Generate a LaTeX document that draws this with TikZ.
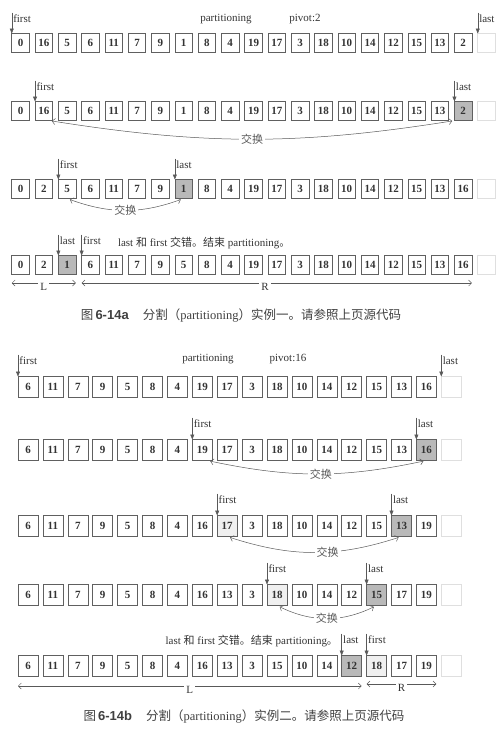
\documentclass[tikz,border=0pt]{standalone}
\usepackage{fontspec}
\setmainfont{Liberation Serif}
\newfontfamily\cjk{Noto Sans CJK SC}
\newfontfamily\capfont{Liberation Sans}
\usetikzlibrary{arrows.meta}

\begin{document}
\begin{tikzpicture}[x=1pt, y=-1pt,
  every node/.style={inner sep=0pt, outer sep=0pt, text=black!80},
  cell/.style={draw=gray!75!black, line width=0.6pt, minimum width=17.5, minimum height=19, font=\bfseries\fontsize{11}{11}\selectfont},
  bcell/.style={cell, minimum width=20, minimum height=21},
  pl/.style={},
  pv/.style={fill=gray!55},
  lt/.style={fill=gray!12},
  spare/.style={draw=gray!25},
  lbl/.style={anchor=north west, inner sep=1.5pt, font=\fontsize{11}{11}\selectfont, text height=8, text depth=1},
  txt/.style={font=\fontsize{11}{11}\selectfont, text height=8, text depth=1},
  ptr/.style={draw=gray!70!black, line width=0.5pt, -{Triangle[length=5pt,width=4pt]}},
  swapline/.style={draw=gray!70!black, line width=0.5pt, shorten <=3pt, shorten >=3pt,
    {Straight Barb[length=3pt,width=6pt]}-{Straight Barb[length=3pt,width=6pt]}},
  cn/.style={font=\cjk\fontsize{11}{11}\selectfont, fill=white, inner sep=2pt, text=black!65},
  spanline/.style={draw=gray!70!black, line width=0.5pt,
    {Straight Barb[length=3pt,width=6pt]}-{Straight Barb[length=3pt,width=6pt]}},
  spanlbl/.style={font=\fontsize{11}{11}\selectfont, fill=white, inner sep=2pt, yshift=-4pt},
  figcap/.style={font=\fontsize{12.5}{12.5}\selectfont, text=black!75}]
\useasboundingbox (0,0) rectangle (500,732);

% 6-14a
\foreach \v/\s [count=\i from 0] in {0/pl,16/pl,5/pl,6/pl,11/pl,7/pl,9/pl,1/pl,8/pl,4/pl,19/pl,17/pl,3/pl,18/pl,10/pl,14/pl,12/pl,15/pl,13/pl,2/pl,/spare}
  \node[cell,\s] (a1-\i) at (20.5+23.3*\i,43) {\v};
\foreach \v/\s [count=\i from 0] in {0/pl,16/pl,5/pl,6/pl,11/pl,7/pl,9/pl,1/pl,8/pl,4/pl,19/pl,17/pl,3/pl,18/pl,10/pl,14/pl,12/pl,15/pl,13/pl,2/pv,/spare}
  \node[cell,\s] (a2-\i) at (20.5+23.3*\i,111) {\v};
\foreach \v/\s [count=\i from 0] in {0/pl,2/pl,5/pl,6/pl,11/pl,7/pl,9/pl,1/pv,8/pl,4/pl,19/pl,17/pl,3/pl,18/pl,10/pl,14/pl,12/pl,15/pl,13/pl,16/pl,/spare}
  \node[cell,\s] (a3-\i) at (20.5+23.3*\i,189) {\v};
\foreach \v/\s [count=\i from 0] in {0/pl,2/pl,1/pv,6/pl,11/pl,7/pl,9/pl,5/pl,8/pl,4/pl,19/pl,17/pl,3/pl,18/pl,10/pl,14/pl,12/pl,15/pl,13/pl,16/pl,/spare}
  \node[cell,\s] (a4-\i) at (20.5+23.3*\i,265) {\v};

\node[txt] (a1part) at (226,18) {partitioning};
\node[txt] (a1piv) at (305,18) {pivot:2};
\node[lbl] (a1f) at ([yshift=21]a1-0.north west) {first};
\node[lbl] (a1l) at ([yshift=21]a1-20.north west) {last};
\draw[ptr] (a1f.north west) -- (a1-0.north west);
\draw[ptr] (a1l.north west) -- (a1-20.north west);

\node[lbl] (a2f) at ([yshift=21]a2-1.north west) {first};
\node[lbl] (a2l) at ([yshift=21]a2-19.north west) {last};
\draw[ptr] (a2f.north west) -- (a2-1.north west);
\draw[ptr] (a2l.north west) -- (a2-19.north west);
\draw[swapline] ([xshift=5]a2-1.south) to[bend right=9] node[cn] (a2x) {交换} ([xshift=-8]a2-19.south);

\node[lbl] (a3f) at ([yshift=21]a3-2.north west) {first};
\node[lbl] (a3l) at ([yshift=21]a3-7.north west) {last};
\draw[ptr] (a3f.north west) -- (a3-2.north west);
\draw[ptr] (a3l.north west) -- (a3-7.north west);
\draw[swapline] (a3-2.south) to[bend right=20] node[cn] (a3x) {交换} (a3-7.south);

\node[lbl] (a4l) at ([yshift=21]a4-2.north west) {last};
\node[lbl] (a4f) at ([yshift=21]a4-3.north west) {first};
\draw[ptr] (a4l.north west) -- (a4-2.north west);
\draw[ptr] (a4f.north west) -- (a4-3.north west);
\node[txt, anchor=west] (a4note) at (118,243) {last {\cjk 和} first {\cjk 交错。结束} partitioning{\cjk 。}};

\coordinate (aL1) at ([yshift=-8.5]a4-0.south west);
\coordinate (aL2) at ([yshift=-8.5]a4-2.south east);
\coordinate (aR1) at ([yshift=-8.5]a4-3.south west);
\coordinate (aR2) at ([yshift=-8.5]a4-19.south east);
\draw[spanline] (aL1) -- node[spanlbl] (aL) {L} (aL2);
\draw[spanline] (aR1) -- node[spanlbl, pos=0.47] (aR) {R} (aR2);

\node[figcap] (capa) at (241,315) {{\cjk 图}\,{\capfont\bfseries\fontsize{13}{13}\selectfont 6-14a}\hspace{14pt}{\cjk 分割（}partitioning{\cjk ）实例一。请参照上页源代码}};

% 6-14b
\foreach \v/\s [count=\i from 0] in {6/pl,11/pl,7/pl,9/pl,5/pl,8/pl,4/pl,19/pl,17/pl,3/pl,18/pl,10/pl,14/pl,12/pl,15/pl,13/pl,16/pl,/spare}
  \node[bcell,\s] (b1-\i) at (28+24.9*\i,387) {\v};
\foreach \v/\s [count=\i from 0] in {6/pl,11/pl,7/pl,9/pl,5/pl,8/pl,4/pl,19/pl,17/pl,3/pl,18/pl,10/pl,14/pl,12/pl,15/pl,13/pl,16/pv,/spare}
  \node[bcell,\s] (b2-\i) at (28+24.9*\i,450) {\v};
\foreach \v/\s [count=\i from 0] in {6/pl,11/pl,7/pl,9/pl,5/pl,8/pl,4/pl,16/pl,17/lt,3/pl,18/pl,10/pl,14/pl,12/pl,15/pl,13/pv,19/pl,/spare}
  \node[bcell,\s] (b3-\i) at (28+24.9*\i,526) {\v};
\foreach \v/\s [count=\i from 0] in {6/pl,11/pl,7/pl,9/pl,5/pl,8/pl,4/pl,16/pl,13/pl,3/pl,18/lt,10/pl,14/pl,12/pl,15/pv,17/pl,19/pl,/spare}
  \node[bcell,\s] (b4-\i) at (28+24.9*\i,595) {\v};
\foreach \v/\s [count=\i from 0] in {6/pl,11/pl,7/pl,9/pl,5/pl,8/pl,4/pl,16/pl,13/pl,3/pl,15/pl,10/pl,14/pl,12/pv,18/lt,17/pl,19/pl,/spare}
  \node[bcell,\s] (b5-\i) at (28+24.9*\i,666) {\v};

\node[txt] (b1part) at (208,358) {partitioning};
\node[txt] (b1piv) at (288,358) {pivot:16};
\node[lbl] (b1f) at ([yshift=22]b1-0.north west) {first};
\node[lbl] (b1l) at ([yshift=22]b1-17.north west) {last};
\draw[ptr] (b1f.north west) -- (b1-0.north west);
\draw[ptr] (b1l.north west) -- (b1-17.north west);

\node[lbl] (b2f) at ([yshift=22]b2-7.north west) {first};
\node[lbl] (b2l) at ([yshift=22]b2-16.north west) {last};
\draw[ptr] (b2f.north west) -- (b2-7.north west);
\draw[ptr] (b2l.north west) -- (b2-16.north west);
\draw[swapline] ([xshift=5]b2-7.south) to[bend right=12] node[cn, pos=0.52] (b2x) {交换} (b2-16.south);

\node[lbl] (b3f) at ([yshift=22]b3-8.north west) {first};
\node[lbl] (b3l) at ([yshift=22]b3-15.north west) {last};
\draw[ptr] (b3f.north west) -- (b3-8.north west);
\draw[ptr] (b3l.north west) -- (b3-15.north west);
\draw[swapline] (b3-8.south) to[bend right=18] node[cn, pos=0.58] (b3x) {交换} (b3-15.south);

\node[lbl] (b4f) at ([yshift=22]b4-10.north west) {first};
\node[lbl] (b4l) at ([yshift=22]b4-14.north west) {last};
\draw[ptr] (b4f.north west) -- (b4-10.north west);
\draw[ptr] (b4l.north west) -- (b4-14.north west);
\draw[swapline] (b4-10.south) to[bend right=26] node[cn] (b4x) {交换} (b4-14.south);

\node[lbl] (b5l) at ([yshift=22]b5-13.north west) {last};
\node[lbl] (b5f) at ([yshift=22]b5-14.north west) {first};
\draw[ptr] (b5l.north west) -- (b5-13.north west);
\draw[ptr] (b5f.north west) -- (b5-14.north west);
\node[txt, anchor=east] (b5note) at (338,641) {last {\cjk 和} first {\cjk 交错。结束} partitioning{\cjk 。}};

\coordinate (bL1) at ([yshift=-9.5]b5-0.south west);
\coordinate (bL2) at ([yshift=-9.5]b5-13.south east);
\coordinate (bR1) at ([yshift=-7.5]b5-14.south west);
\coordinate (bR2) at ([yshift=-7.5]b5-16.south east);
\draw[spanline] (bL1) -- node[spanlbl] (bL) {L} (bL2);
\draw[spanline] (bR1) -- node[spanlbl] (bR) {R} (bR2);

\node[figcap] (capb) at (244,716) {{\cjk 图}\,{\capfont\bfseries\fontsize{13}{13}\selectfont 6-14b}\hspace{14pt}{\cjk 分割（}partitioning{\cjk ）实例二。请参照上页源代码}};
\end{tikzpicture}
\end{document}
